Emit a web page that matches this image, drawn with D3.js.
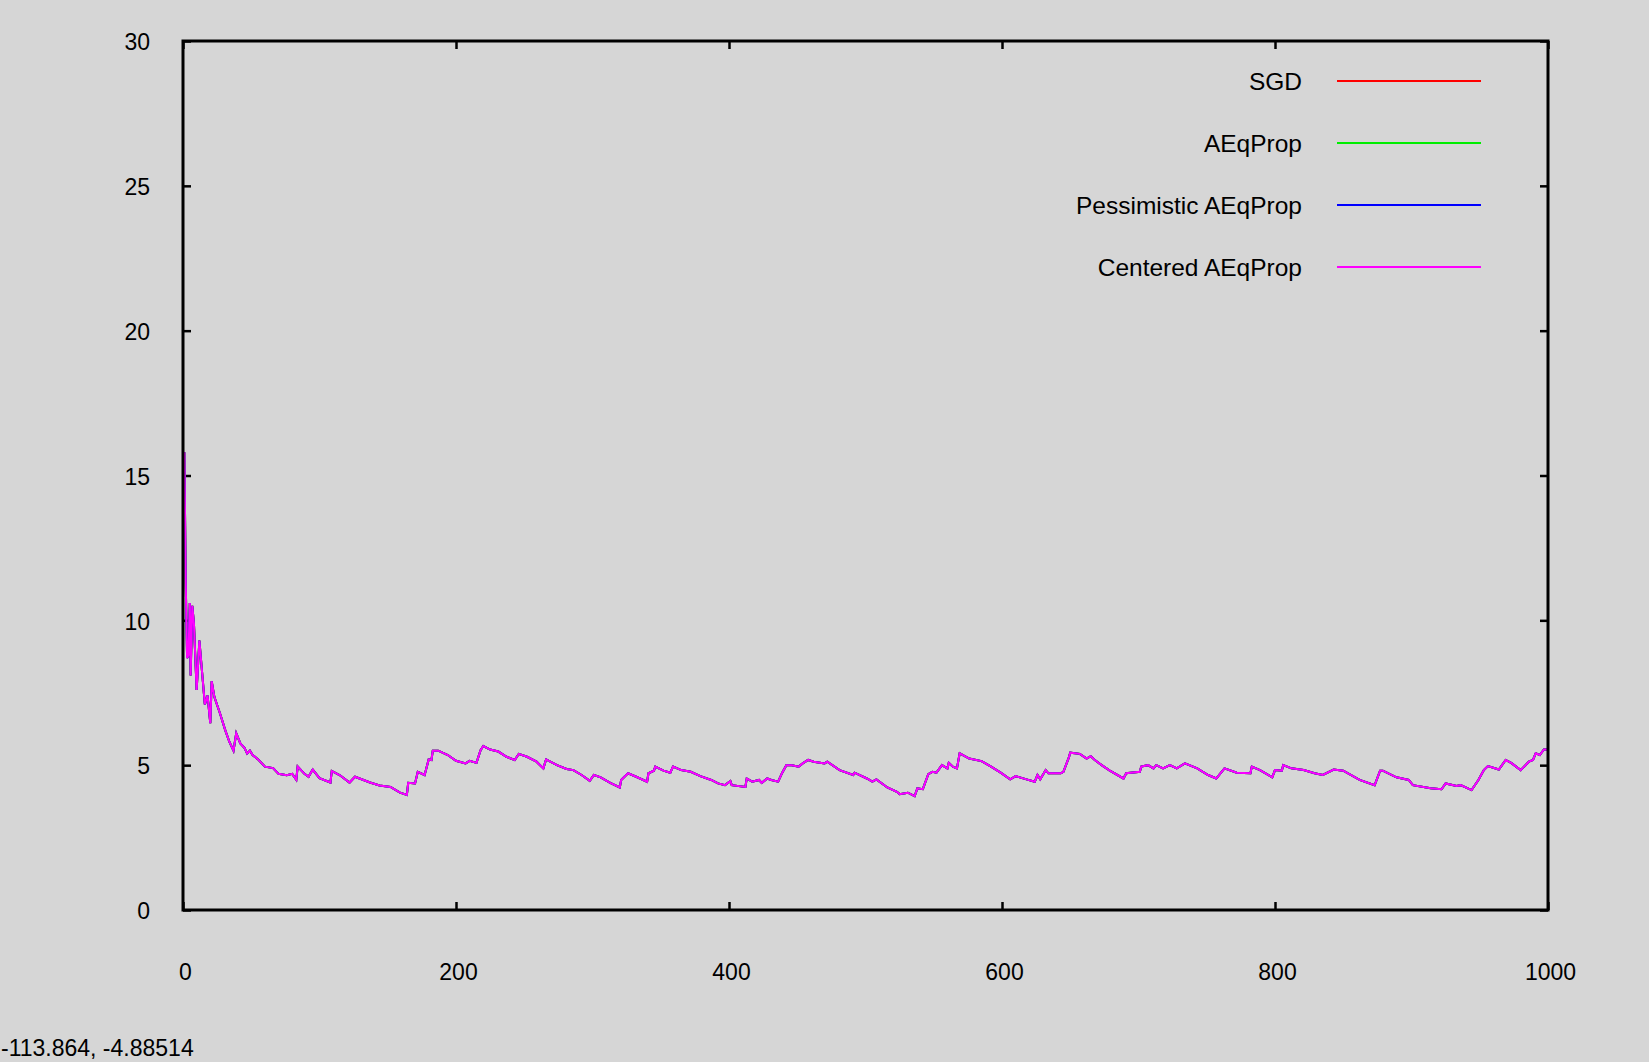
<!DOCTYPE html>
<html>
<head>
<meta charset="utf-8">
<script src="https://cdn.jsdelivr.net/npm/d3@7"></script>
<style>
  html, body { margin: 0; padding: 0; background: #d6d6d6; }
  svg { display: block; }
  text { font-family: "Liberation Sans", Arial, Helvetica, sans-serif; fill: #000; }
</style>
</head>
<body>
<svg id="chart" width="1649" height="1062"></svg>
<script>
// ---- data ----
const seriesNames = ["SGD", "AEqProp", "Pessimistic AEqProp", "Centered AEqProp"];
const seriesColors = ["#ff0000", "#00ee00", "#0000ff", "#ff00ff"];
const xTicks = [0, 200, 400, 600, 800, 1000];
const yTicks = [0, 5, 10, 15, 20, 25, 30];
const coordText = "-113.864, -4.88514";

const epochs = [1,2,3,4,5,5.6,6.8,8,10,12,14,16,18,20,21,23,27,31,34,37,39,42,45,47,49,51,55,60,66,70,76,80,83,84,89,92,95,100,108,109,115,122,126,137,144,152,159,164,165,170,172,177,180,182,183,187,194,200,207,210,215,218,220,225,231,237,243,246,252,259,264,266,274,281,286,292,298,301,306,313,320,321,326,332,340,341,345,346,352,357,359,365,372,379,387,392,397,401,402,412,413,417,422,424,428,431,436,439,442,446,451,454,458,462,470,472,481,491,492,501,505,508,516,523,525,531,536,538,542,546,549,552,556,560,561,564,567,569,576,585,592,599,606,610,618,624,626,628,632,634,643,645,649,650,657,662,665,668,673,679,689,691,701,702,707,711,713,718,723,728,734,743,751,757,760,763,772,782,783,789,798,800,805,806,812,821,829,835,843,850,862,873,877,879,889,898,901,914,922,925,933,936,944,949,953,956,964,969,973,980,986,989,991,994,997,1000];
const loss = [15.8,11.3,8.7,8.8,10.6,8.1,10.5,9.9,7.6,9.3,8.2,7.1,7.4,6.45,7.9,7.35,6.8,6.2,5.8,5.5,6.1,5.75,5.6,5.4,5.5,5.35,5.2,4.95,4.9,4.7,4.65,4.7,4.5,4.95,4.7,4.6,4.85,4.55,4.4,4.8,4.65,4.4,4.6,4.4,4.3,4.25,4.05,3.97,4.39,4.37,4.77,4.66,5.2,5.18,5.5,5.5,5.35,5.15,5.06,5.15,5.08,5.52,5.66,5.54,5.47,5.29,5.18,5.39,5.29,5.12,4.89,5.2,5.0,4.87,4.83,4.66,4.46,4.66,4.58,4.39,4.23,4.49,4.72,4.6,4.43,4.72,4.81,4.95,4.81,4.74,4.95,4.83,4.77,4.62,4.49,4.37,4.31,4.45,4.31,4.25,4.54,4.43,4.49,4.39,4.54,4.49,4.43,4.74,5.0,5.0,4.95,5.06,5.18,5.12,5.06,5.12,4.83,4.66,4.74,4.54,4.43,4.51,4.23,4.08,4.0,4.05,3.93,4.2,4.17,4.69,4.77,4.74,5.0,4.89,5.08,4.95,4.89,5.41,5.23,5.14,4.95,4.74,4.51,4.62,4.51,4.43,4.66,4.51,4.83,4.72,4.72,4.77,5.27,5.43,5.39,5.23,5.31,5.18,5.0,4.81,4.54,4.72,4.77,4.95,5.0,4.89,5.0,4.89,5.0,4.89,5.06,4.89,4.66,4.54,4.72,4.89,4.74,4.72,4.95,4.83,4.58,4.83,4.81,5.0,4.89,4.83,4.72,4.66,4.85,4.81,4.49,4.31,4.81,4.81,4.58,4.49,4.31,4.2,4.17,4.37,4.28,4.31,4.14,4.49,4.83,4.97,4.85,5.18,5.08,4.83,5.12,5.18,5.41,5.35,5.54,5.54];
// The four runs overlap so closely that only the top (Centered) curve is visible.
const seriesValues = [loss, loss, loss, loss];

// ---- layout ----
const svg = d3.select("#chart");
const plotLeft = 183, plotRight = 1548, plotTop = 41, plotBottom = 910;

const x = d3.scaleLinear().domain([0, 1000]).range([plotLeft, plotRight]);
const y = d3.scaleLinear().domain([0, 30]).range([plotBottom, plotTop]);

const tickFont = "23px";

// axes (ticks inward, mirrored)
const gB = svg.append("g").attr("transform", `translate(0,${plotBottom})`)
  .call(d3.axisBottom(x).tickValues(xTicks).tickSizeInner(-8).tickSizeOuter(0).tickPadding(54).tickFormat(d3.format("d")));
const gT = svg.append("g").attr("transform", `translate(0,${plotTop})`)
  .call(d3.axisTop(x).tickValues(xTicks).tickSizeInner(-8).tickSizeOuter(0).tickFormat(""));
const gL = svg.append("g").attr("transform", `translate(${plotLeft},0)`)
  .call(d3.axisLeft(y).tickValues(yTicks).tickSizeInner(-8).tickSizeOuter(0).tickPadding(33).tickFormat(d3.format("d")));
const gR = svg.append("g").attr("transform", `translate(${plotRight},0)`)
  .call(d3.axisRight(y).tickValues(yTicks).tickSizeInner(-8).tickSizeOuter(0).tickFormat(""));

[gB, gT, gL, gR].forEach(g => {
  g.select(".domain").remove();
  g.selectAll(".tick line").attr("stroke", "#000").attr("stroke-width", 2.5);
  g.selectAll(".tick text").style("font-size", tickFont).style("font-family", '"Liberation Sans", Arial, sans-serif').attr("fill", "#000");
});
gB.selectAll(".tick text").attr("dx", 2);
gL.selectAll(".tick text").attr("dy", "0.38em");

// data lines
const line = d3.line().x((d, i) => x(epochs[i])).y(d => y(d));
seriesValues.forEach((vals, k) => {
  svg.append("path")
    .datum(vals)
    .attr("fill", "none")
    .attr("stroke", seriesColors[k])
    .attr("stroke-width", 2)
    .attr("stroke-linejoin", "miter")
    .attr("d", line);
});

// frame
svg.append("rect")
  .attr("x", plotLeft).attr("y", plotTop)
  .attr("width", plotRight - plotLeft).attr("height", plotBottom - plotTop)
  .attr("fill", "none").attr("stroke", "#000").attr("stroke-width", 3);

// legend
const legendY = d3.scaleLinear().domain([0, 3]).range([81, 267]);
seriesNames.forEach((name, k) => {
  const ly = legendY(k);
  svg.append("text")
    .attr("x", 1302).attr("y", ly + 9)
    .attr("text-anchor", "end")
    .style("font-size", "24.5px")
    .text(name);
  svg.append("line")
    .attr("x1", 1337).attr("x2", 1481)
    .attr("y1", ly).attr("y2", ly)
    .attr("stroke", seriesColors[k]).attr("stroke-width", 2);
});

// mouse-coordinate readout text at bottom-left
svg.append("text")
  .attr("x", 1).attr("y", 1056)
  .style("font-size", "23px")
  .text(coordText);
</script>
</body>
</html>
